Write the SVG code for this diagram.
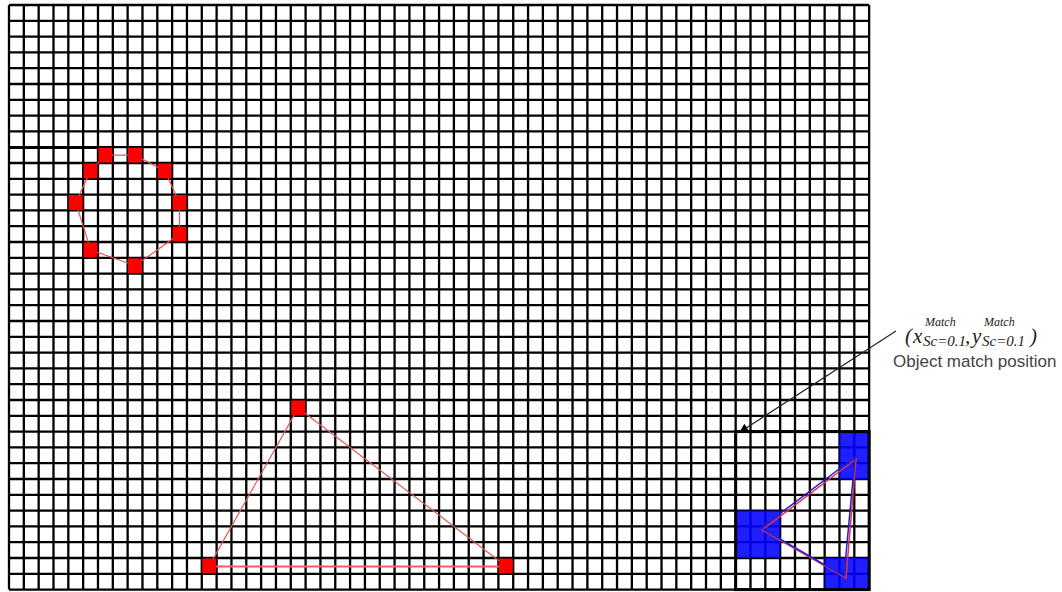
<svg xmlns="http://www.w3.org/2000/svg" width="1062" height="592" viewBox="0 0 1062 592">
<style>
.grid{stroke:#000;stroke-width:2.3;fill:none}
.red{fill:#ff0000}
.redline{stroke:#e05a5a;stroke-width:1.2;fill:none}
.blue{fill:#0000ff;opacity:0.88}
.math{font-family:"Liberation Serif","Times New Roman",serif;font-style:italic;fill:#222}
.lbl{font-family:"Liberation Sans",Arial,sans-serif;font-size:17px;fill:#444}
</style>
<defs>
<marker id="ah" viewBox="0 0 10 10" refX="9" refY="5" markerWidth="14" markerHeight="9" markerUnits="userSpaceOnUse" orient="auto">
<path d="M0,0 L10,5 L0,10 z" fill="#000"/>
</marker>
</defs>
<rect width="1062" height="592" fill="#fff"/>
<g id="grid">
<path class="grid" d="M9,5V589.6M23.83,5V589.6M38.66,5V589.6M53.49,5V589.6M68.32,5V589.6M83.15,5V589.6M97.98,5V589.6M112.81,5V589.6M127.64,5V589.6M142.47,5V589.6M157.3,5V589.6M172.13,5V589.6M186.96,5V589.6M201.79,5V589.6M216.62,5V589.6M231.45,5V589.6M246.28,5V589.6M261.11,5V589.6M275.94,5V589.6M290.77,5V589.6M305.6,5V589.6M320.43,5V589.6M335.26,5V589.6M350.09,5V589.6M364.92,5V589.6M379.75,5V589.6M394.58,5V589.6M409.41,5V589.6M424.24,5V589.6M439.07,5V589.6M453.9,5V589.6M468.73,5V589.6M483.56,5V589.6M498.39,5V589.6M513.22,5V589.6M528.05,5V589.6M542.88,5V589.6M557.71,5V589.6M572.54,5V589.6M587.37,5V589.6M602.2,5V589.6M617.03,5V589.6M631.86,5V589.6M646.69,5V589.6M661.52,5V589.6M676.35,5V589.6M691.18,5V589.6M706.01,5V589.6M720.84,5V589.6M735.67,5V589.6M750.5,5V589.6M765.33,5V589.6M780.16,5V589.6M794.99,5V589.6M809.82,5V589.6M824.65,5V589.6M839.48,5V589.6M854.31,5V589.6M869.14,5V589.6
M9,5H869.14M9,20.8H869.14M9,36.6H869.14M9,52.4H869.14M9,68.2H869.14M9,84H869.14M9,99.8H869.14M9,115.6H869.14M9,131.4H869.14M9,147.2H869.14M9,163H869.14M9,178.8H869.14M9,194.6H869.14M9,210.4H869.14M9,226.2H869.14M9,242H869.14M9,257.8H869.14M9,273.6H869.14M9,289.4H869.14M9,305.2H869.14M9,321H869.14M9,336.8H869.14M9,352.6H869.14M9,368.4H869.14M9,384.2H869.14M9,400H869.14M9,415.8H869.14M9,431.6H869.14M9,447.4H869.14M9,463.2H869.14M9,479H869.14M9,494.8H869.14M9,510.6H869.14M9,526.4H869.14M9,542.2H869.14M9,558H869.14M9,573.8H869.14M9,589.6H869.14"/>
<line x1="9" y1="147.4" x2="100" y2="147.4" stroke="#000" stroke-width="3"/>
</g>
<g id="circle">
<path class="redline" d="M105.4,155.1 L135.1,155.1 L164.7,170.9 L179.5,202.5 L179.5,234.1 L135.1,265.7 L90.6,249.9 L75.7,202.5 L90.6,170.9 Z"/>
<rect class="red" x="98.5" y="147.7" width="13.8" height="14.8"/>
<rect class="red" x="128.1" y="147.7" width="13.8" height="14.8"/>
<rect class="red" x="157.8" y="163.5" width="13.8" height="14.8"/>
<rect class="red" x="172.6" y="195.1" width="13.8" height="14.8"/>
<rect class="red" x="172.6" y="226.7" width="13.8" height="14.8"/>
<rect class="red" x="128.1" y="258.3" width="13.8" height="14.8"/>
<rect class="red" x="83.6" y="242.5" width="13.8" height="14.8"/>
<rect class="red" x="68.8" y="195.1" width="13.8" height="14.8"/>
<rect class="red" x="83.6" y="163.5" width="13.8" height="14.8"/>
</g>
<g id="triangle">
<path class="redline" d="M298.2,407.9 L209.2,565.9"/>
<path class="redline" d="M298.2,407.9 L505.8,565.9"/>
<path d="M209.2,566.5 L505.8,566.5" stroke="#ff5a5a" stroke-width="2.2" fill="none"/>
<rect class="red" x="291.3" y="400.5" width="13.8" height="14.8"/>
<rect class="red" x="202.3" y="558.5" width="13.8" height="14.8"/>
<rect class="red" x="498.9" y="558.5" width="13.8" height="14.8"/>
</g>
<g id="match-region">
<rect class="blue" x="839.48" y="431.6" width="29.66" height="47.4"/>
<rect class="blue" x="735.67" y="510.6" width="44.49" height="47.4"/>
<rect class="blue" x="824.65" y="558" width="44.49" height="31.6"/>
<path d="M856,459 L762,530 L846,578 Z" stroke="#e03050" stroke-width="1.5" fill="none"/>
<path d="M855,457 L761,528 L844,576 Z" stroke="#2020d0" stroke-width="1.5" fill="none"/>
<rect x="735.67" y="431.6" width="133.47" height="158" fill="none" stroke="#000" stroke-width="3"/>
</g>
<g id="connectors">
<line x1="896" y1="331" x2="740" y2="432" stroke="#222" stroke-width="1.2" marker-end="url(#ah)"/>
</g>
<g id="label">
<text class="math" x="905" y="343" font-size="21" font-style="normal">(</text>
<text class="math" x="913" y="343" font-size="21">x</text>
<text class="math" x="925" y="326" font-size="12">Match</text>
<text class="math" x="923" y="346" font-size="15">Sc=0.1</text>
<text class="math" x="965" y="343" font-size="21" font-style="normal">,</text>
<text class="math" x="972" y="343" font-size="21">y</text>
<text class="math" x="984" y="326" font-size="12">Match</text>
<text class="math" x="982" y="346" font-size="15">Sc=0.1</text>
<text class="math" x="1030" y="343" font-size="21" font-style="normal">)</text>
<text class="lbl" x="893" y="367">Object match position</text>
</g>
</svg>
